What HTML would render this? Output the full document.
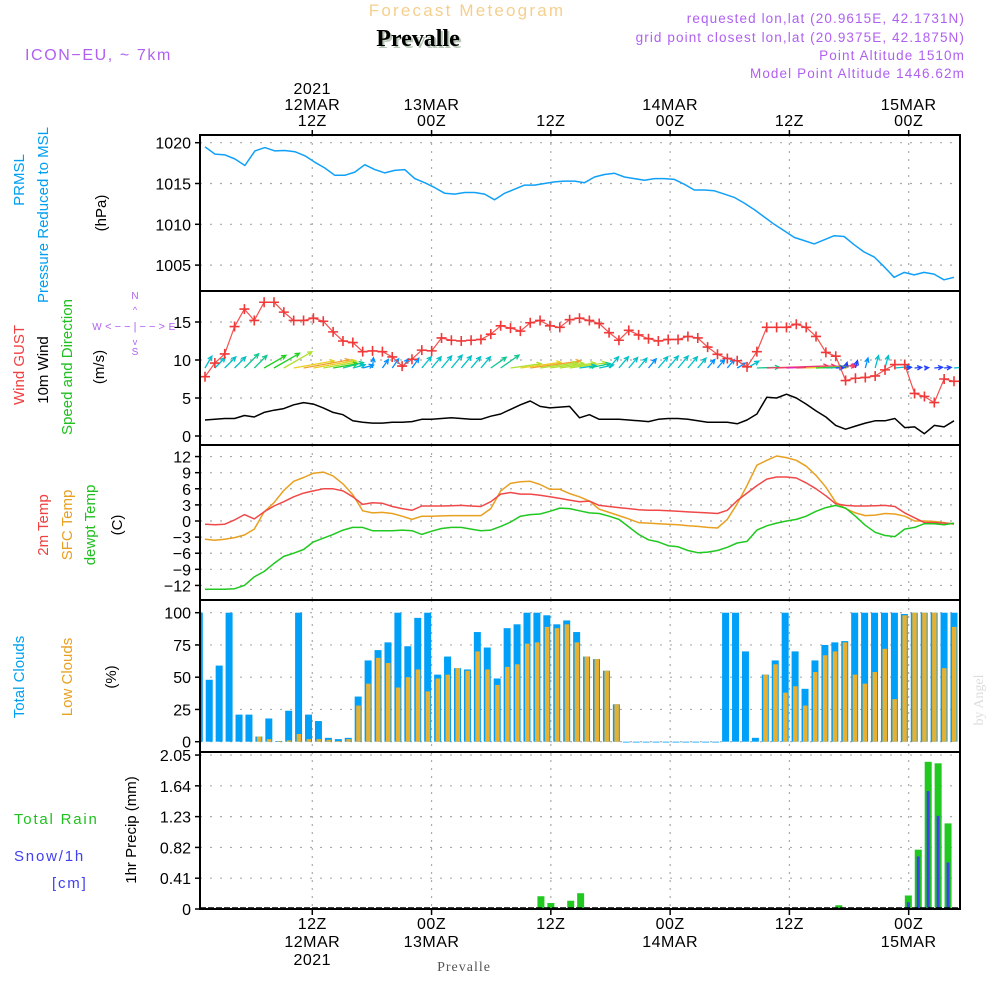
<!DOCTYPE html>
<html><head><meta charset="utf-8"><title>Forecast Meteogram Prevalle</title>
<style>
html,body{margin:0;padding:0;background:#fff;}
svg{display:block;font-family:"Liberation Sans",sans-serif;}
</style></head>
<body>
<svg id="chart" width="1000" height="1000" viewBox="0 0 1000 1000" xmlns="http://www.w3.org/2000/svg">
<defs><clipPath id="plotclip"><rect x="201" y="136" width="758" height="772"/></clipPath></defs>
<rect x="0" y="0" width="1000" height="1000" fill="#fff"/>
<g>
<text x="467" y="16" font-size="17" fill="#f5cf8e" letter-spacing="2.2" text-anchor="middle">Forecast Meteogram</text>
<text x="420" y="48" font-size="24" font-weight="bold" font-family="Liberation Serif,serif" fill="#b8c8b8" text-anchor="middle">Prevalle</text>
<text x="418" y="46" font-size="24" font-weight="bold" font-family="Liberation Serif,serif" fill="#000" text-anchor="middle">Prevalle</text>
<text x="25" y="60" font-size="16" fill="#b060f0" letter-spacing="1.6">ICON−EU, ~ 7km</text>
<g font-size="13.5" fill="#b060f0" text-anchor="end" letter-spacing="1.1">
<text x="965" y="23">requested lon,lat (20.9615E, 42.1731N)</text>
<text x="965" y="42">grid point closest lon,lat (20.9375E, 42.1875N)</text>
<text x="965" y="60">Point Altitude 1510m</text>
<text x="965" y="78">Model Point Altitude 1446.62m</text>
</g>
</g>
<g font-size="15">
<text transform="translate(24,180) rotate(-90)" fill="#00a0f0" text-anchor="middle">PRMSL</text>
<text transform="translate(48,215) rotate(-90)" fill="#00a0f0" text-anchor="middle">Pressure Reduced to MSL</text>
<text transform="translate(106,213) rotate(-90)" fill="#000" text-anchor="middle">(hPa)</text>
<text transform="translate(24,365) rotate(-90)" fill="#f04040" text-anchor="middle">Wind GUST</text>
<text transform="translate(48,370) rotate(-90)" fill="#000" text-anchor="middle">10m Wind</text>
<text transform="translate(72,367) rotate(-90)" fill="#20c020" text-anchor="middle">Speed and Direction</text>
<text transform="translate(104,367) rotate(-90)" fill="#000" text-anchor="middle">(m/s)</text>
<g fill="#b060f0" font-size="10" text-anchor="middle">
<text x="135" y="299">N</text><text x="97" y="330">W</text><text x="172" y="330">E</text><text x="135" y="355">S</text>
<text x="135" y="330" font-size="11">&lt; − − | − − &gt;</text>
<text x="135" y="313" font-size="9">^</text><text x="135" y="345" font-size="9">v</text>
</g>
<text transform="translate(48,525) rotate(-90)" fill="#f04040" text-anchor="middle">2m Temp</text>
<text transform="translate(72,525) rotate(-90)" fill="#e8a020" text-anchor="middle">SFC Temp</text>
<text transform="translate(95,525) rotate(-90)" fill="#20c020" text-anchor="middle">dewpt Temp</text>
<text transform="translate(122,525) rotate(-90)" fill="#000" text-anchor="middle">(C)</text>
<text transform="translate(24,677) rotate(-90)" fill="#00a0f0" text-anchor="middle">Total Clouds</text>
<text transform="translate(72,677) rotate(-90)" fill="#e8a020" text-anchor="middle">Low Clouds</text>
<text transform="translate(116,677) rotate(-90)" fill="#000" text-anchor="middle">(%)</text>
<text x="14" y="824" fill="#20c020" letter-spacing="1.8">Total   Rain</text>
<text x="14" y="861" fill="#4040f0" letter-spacing="1.8">Snow/1h</text>
<text x="52" y="888" fill="#4040f0" letter-spacing="1.8">[cm]</text>
<text transform="translate(136,830) rotate(-90)" fill="#000" text-anchor="middle">1hr Precip (mm)</text>
</g>
<text transform="translate(983,700) rotate(-90)" font-family="Liberation Serif,serif" font-size="14" fill="#ddd" text-anchor="middle">by Angel</text>
<text x="464" y="971" font-family="Liberation Serif,serif" font-size="14" fill="#555" text-anchor="middle" letter-spacing="1">Prevalle</text>
<g id="data" clip-path="url(#plotclip)"></g>
<g id="plot"></g>
</svg>
<script>
const pressure=[1019.5,1018.6,1018.5,1018.0,1017.2,1019.0,1019.4,1019.0,1019.05,1018.9,1018.4,1017.6,1016.9,1016.0,1016.0,1016.4,1017.3,1016.7,1016.3,1016.6,1016.7,1015.6,1015.1,1014.5,1013.8,1013.7,1013.9,1013.9,1013.7,1013.0,1013.8,1014.3,1014.8,1014.8,1015.0,1015.2,1015.3,1015.3,1015.1,1015.8,1016.1,1016.25,1015.8,1015.6,1015.4,1015.6,1015.6,1015.5,1014.9,1014.2,1014.2,1014.1,1013.7,1013.3,1012.6,1011.8,1010.9,1010.0,1009.2,1008.4,1008.0,1007.6,1008.1,1008.6,1008.5,1007.5,1006.6,1006.0,1004.8,1003.5,1004.1,1003.8,1004.1,1003.9,1003.2,1003.5];
const gust=[7.8,9.6,10.8,14.4,16.7,15.2,17.6,17.6,16.3,15.2,15.2,15.5,15.1,13.7,12.5,12.3,11.1,11.2,11.1,10.4,9.2,10.1,11.3,11.2,12.9,12.6,12.5,12.6,12.7,13.4,14.5,14.2,13.8,14.9,15.2,14.5,14.3,15.3,15.5,15.2,14.8,13.6,12.6,13.9,13.3,12.8,12.5,12.7,12.7,13.1,12.9,11.7,10.75,10.2,9.9,9.1,11.1,14.3,14.3,14.3,14.7,14.3,13.1,11.0,10.5,7.3,7.6,7.7,7.9,8.7,9.4,9.4,5.6,5.2,4.4,7.5,7.2];
const wind10m=[2.1,2.2,2.3,2.3,2.7,2.5,3.1,3.4,3.6,4.1,4.4,4.2,3.7,3.1,2.8,2.0,1.8,1.7,1.7,1.8,1.8,1.9,2.2,2.2,2.3,2.4,2.3,2.2,2.2,2.6,2.9,3.5,4.1,4.6,3.9,3.7,3.8,3.9,2.4,2.8,2.2,2.2,2.2,2.1,2.0,1.9,2.2,2.3,2.3,2.2,2.0,1.8,1.8,1.8,1.6,2.1,2.9,5.1,5.0,5.5,5.0,4.2,3.3,2.5,1.4,0.9,1.3,1.7,2.0,2.0,2.3,1.1,1.2,0.3,1.4,1.2,2.0];
const windDir=[210,225,225,225,225,225,240,240,240,260,260,260,260,260,255,255,255,185,215,215,215,215,220,220,220,220,220,220,220,235,235,262,262,262,262,262,262,262,262,258,258,220,220,220,220,220,220,220,220,220,220,220,220,220,240,240,268,268,268,268,268,268,268,268,268,195,195,195,195,195,265,265,265,265,265,265,265];
const temp2m=[-0.6,-0.7,-0.6,0.2,1.2,0.4,1.7,2.8,3.6,4.5,5.2,5.6,6.0,6.0,5.6,4.5,3.1,3.4,3.3,2.7,2.3,2.0,2.8,2.8,2.8,2.85,2.9,2.8,2.7,3.6,5.0,5.3,5.0,5.0,4.8,4.5,4.2,3.9,3.6,3.7,2.9,2.7,2.5,2.3,2.1,2.0,2.0,1.9,1.8,1.7,1.6,1.5,1.4,2.0,3.8,5.2,6.6,7.8,8.2,8.2,8.0,7.1,6.0,4.7,3.2,2.9,2.8,2.8,2.85,2.9,2.7,1.5,0.6,-0.3,-0.3,-0.4,-0.5];
const tempSfc=[-3.4,-3.6,-3.4,-3.1,-2.6,-1.5,1.7,3.4,5.7,7.4,8.1,8.9,9.1,8.4,6.9,4.9,1.9,1.5,1.6,1.4,0.9,0.3,0.9,0.9,0.95,1.0,1.0,1.0,1.0,2.3,5.6,7.0,7.3,7.4,6.8,5.9,5.9,5.1,4.5,3.7,2.2,1.6,1.0,0.4,-0.3,-0.4,-0.5,-0.6,-0.7,-0.9,-1.0,-1.2,-1.3,0.3,3.2,6.6,10.4,11.3,12.1,11.8,11.3,10.2,8.5,6.3,3.5,2.3,1.5,1.0,1.1,1.4,1.3,0.9,0.0,0.0,-0.1,-0.3,-0.6];
const dewpt=[-12.7,-12.7,-12.7,-12.6,-12.0,-10.4,-9.4,-7.9,-6.6,-6.0,-5.3,-3.9,-3.2,-2.5,-1.7,-1.2,-1.2,-1.8,-1.8,-1.8,-1.7,-1.8,-2.5,-1.9,-1.4,-1.2,-1.2,-1.5,-1.8,-1.7,-1.0,-0.2,0.9,1.2,1.3,1.8,2.4,2.3,1.9,1.5,1.4,0.9,0.3,-1.1,-2.5,-3.5,-3.9,-4.6,-4.8,-5.5,-5.9,-5.8,-5.5,-4.9,-4.1,-3.8,-1.7,-0.9,-0.4,0.0,0.3,0.9,1.8,2.5,2.9,2.4,0.9,-0.8,-2.1,-2.7,-2.9,-1.5,-1.2,-0.5,-0.5,-0.7,-0.4];
const totalClouds=[100,48,59,100,21,21,4,18,0.5,24,100,21,16,3,2,3,35,63,71,77,100,74,96,100,52,66,57,56,85,73,49,88,91,100,100,98,91,94,85,66,64,55,29,0,0,0,0,0,0,0,0,0,0,100,100,70,3,52,63,100,70,41,63,75,77,78,100,100,100,100,100,99,100,100,100,100,100];
const lowClouds=[0,0,0,0,0,0,4,2,0.5,1,6,2,2,1.5,0.5,2,28,45,65,61,42,50,56,39,49,52,57,55,70,56,44,58,60,76,77,89,88,91,77,66,64,55,29,0,0,0,0,0,0,0,0,0,0,0,0,0,0,52,60,38,43,28,54,67,70,77,52,45,54,72,33,98,100,100,100,57,89];
const rain=[0,0,0,0,0,0,0,0,0,0,0,0,0,0,0,0,0,0,0,0,0,0,0,0,0,0,0,0,0,0,0,0,0,0,0.17,0.08,0,0.11,0.21,0,0,0,0,0,0,0,0,0,0,0,0,0,0,0,0,0,0,0,0,0,0,0,0,0,0.05,0,0,0,0,0,0,0.18,0.79,1.96,1.94,1.14,0];
const snow=[0,0,0,0,0,0,0,0,0,0,0,0,0,0,0,0,0,0,0,0,0,0,0,0,0,0,0,0,0,0,0,0,0,0,0,0,0,0,0,0,0,0,0,0,0,0,0,0,0,0,0,0,0,0,0,0,0,0,0,0,0,0,0,0,0,0,0,0,0,0,0,0.09,0.70,1.57,1.24,0.62,0];
const pressureTicks=[1020,1015,1010,1005];
const windTicks=[15,10,5,0];
const tempTicks=[12,9,6,3,0,-3,-6,-9,-12];
const cloudTicks=[100,75,50,25,0];
const precipTicks=[2.05,1.64,1.23,0.82,0.41,0];
const timeHours=[12,24,36,48,60,72];
const topLabels=[["2021","12MAR","12Z"],["13MAR","00Z"],["12Z"],["14MAR","00Z"],["12Z"],["15MAR","00Z"]];
const bottomLabels=[["12Z","12MAR","2021"],["00Z","13MAR"],["12Z"],["00Z","14MAR"],["12Z"],["00Z","15MAR"]];

const NS="http://www.w3.org/2000/svg";
const plot=document.getElementById('plot');
const dataG=document.getElementById('data');
function mk(tag,attrs,parent){const e=document.createElementNS(NS,tag);for(const k in attrs)e.setAttribute(k,attrs[k]);(parent||plot).appendChild(e);return e;}
const X0=200,X1=960;
function xTime(h){return 193+h*9.94;}
function xLine(i,n){return 205+i*749/(n-1);}
function xBar(k){return 199.3+k*9.93;}
const panels={
 p:{top:135,bot:291,y:v=>142.7+(1020-v)*8.16},
 w:{top:291,bot:445,y:v=>436-v*7.6},
 t:{top:445,bot:600,y:v=>521-v*5.37},
 c:{top:600,bot:752,y:v=>741.7-v*1.29},
 r:{top:752,bot:909,y:v=>909-v*75.1}
};
function grid(pn,ticks,fmt,name){
 const P=panels[pn];
 ticks.forEach(t=>{
  const y=P.y(t);
  const g=mk('line',{x1:X0,x2:X1,y1:y,y2:y,stroke:'#aaa','stroke-width':1.2,'stroke-dasharray':'2,8'},dataG);
  
  
  mk('line',{x1:X0-5,x2:X0,y1:y,y2:y,stroke:'#000','stroke-width':1.5});
  const tx=mk('text',{x:X0-9,y:y+6,'font-size':16,'text-anchor':'end',fill:'#000'});
  tx.textContent=fmt(t);
  
  
 });
 timeHours.forEach(h=>{
  const x=xTime(h);
  const g=mk('line',{x1:x,x2:x,y1:P.top,y2:P.bot,stroke:'#aaa','stroke-width':1.2,'stroke-dasharray':'2,6'},dataG);
  
  
 });
}
grid('p',pressureTicks,t=>String(t),'pressure');
grid('w',windTicks,t=>String(t),'wind');
grid('t',tempTicks,t=>(t<0?'−'+(-t):String(t)),'temp');
grid('c',cloudTicks,t=>String(t),'cloud');
grid('r',precipTicks,t=>(t===0?'0':t.toFixed(2)),'precip');

function line(arr,pn,color,name,w){
 const P=panels[pn];
 const pts=arr.map((v,i)=>xLine(i,arr.length).toFixed(1)+','+P.y(v).toFixed(1)).join(' ');
 const l=mk('polyline',{points:pts,fill:'none',stroke:color,'stroke-width':w||1.5,'stroke-linejoin':'round'},dataG);
 
 
 return l;
}
line(pressure,'p','#10a0f8','pressure-line');
totalClouds.forEach((v,k)=>{
 const P=panels.c;const cx=xBar(k);const y=P.y(v);
 const b=mk('rect',{x:cx-3.5,y:y,width:7,height:Math.max(P.y(0)-y,0.8),fill:'#00a0f8'},dataG);
 
 
});
lowClouds.forEach((v,k)=>{
 if(v<=0)return;
 const P=panels.c;const cx=xBar(k);const y=P.y(v);
 const b=mk('rect',{x:cx-2,y:y,width:4.5,height:P.y(0)-y,fill:'#e8b030'},dataG);
 
 
});
rain.forEach((v,k)=>{
 if(v<=0)return;
 const P=panels.r;const cx=xBar(k)+4;const y=P.y(v);
 const b=mk('rect',{x:cx-3.5,y:y,width:7,height:P.y(0)-y,fill:'#20c820'},dataG);
 
 
});
snow.forEach((v,k)=>{
 if(v<=0)return;
 const P=panels.r;const cx=xBar(k)+4;const y=P.y(v);
 const b=mk('rect',{x:cx-1.5,y:y,width:3,height:P.y(0)-y,fill:'#4040f0'},dataG);
 
 
});
mk('line',{x1:X0,x2:X1,y1:908,y2:908,stroke:'#000','stroke-width':1.5,'stroke-dasharray':'6,2'},dataG);
line(tempSfc,'t','#e8a020','sfc-temp-line');
line(temp2m,'t','#f04848','temp-2m-line');
line(dewpt,'t','#20c820','dewpoint-line');
line(wind10m,'w','#000','wind-speed-line');
function windColor(s){
 if(s<1.5)return '#2040ff';if(s<2)return '#0090ff';if(s<2.5)return '#00c0c8';if(s<3)return '#10c890';
 if(s<3.5)return '#20d020';if(s<4)return '#b0e030';if(s<4.3)return '#e8d020';if(s<4.8)return '#f0a030';
 if(s<5.2)return '#f04060';return '#e020c0';
}
windDir.forEach((d,i)=>{
 const s=wind10m[i];if(s===undefined)return;
 const x=xLine(i,wind10m.length);const y=368;
 const b=(d+180)*Math.PI/180;const L=4+2.2*s*s;
 const dx=Math.sin(b)*L,dy=-Math.cos(b)*L;const ex=x+dx,ey=y+dy;
 const a=Math.atan2(dy,dx);const h=5;
 const c=windColor(s);
 const g=mk('path',{d:`M${x},${y}L${ex},${ey}M${ex-h*Math.cos(a-0.45)},${ey-h*Math.sin(a-0.45)}L${ex},${ey}L${ex-h*Math.cos(a+0.45)},${ey-h*Math.sin(a+0.45)}`,stroke:c,'stroke-width':1.3,fill:'none'},dataG);
 
 
});
line(gust,'w','#f45050','gust-line',1.2);
gust.forEach((v,i)=>{
 const x=xLine(i,gust.length),y=panels.w.y(v);
 const m=mk('path',{d:`M${x-5},${y}H${x+5}M${x},${y-5}V${y+5}`,stroke:'#f03838','stroke-width':1.6},dataG);
 
 
});
Object.keys(panels).forEach(k=>{
 const P=panels[k];
 const r=mk('rect',{x:X0,y:P.top,width:X1-X0,height:P.bot-P.top,fill:'none',stroke:'#000','stroke-width':2});
 
 
});
timeHours.forEach((h,i)=>{
 const x=xTime(h);
 mk('line',{x1:x,x2:x,y1:135,y2:130,stroke:'#000','stroke-width':1.5});
 mk('line',{x1:x,x2:x,y1:909,y2:915,stroke:'#000','stroke-width':1.5});
 const tl=topLabels[i];
 tl.forEach((s,j)=>{
  const t=mk('text',{x:x,y:126-(tl.length-1-j)*16,'font-size':16,'text-anchor':'middle',fill:'#000','letter-spacing':0.5});
  t.textContent=s;
  
  
 });
 bottomLabels[i].forEach((s,j)=>{
  const t=mk('text',{x:x,y:929+j*18,'font-size':16,'text-anchor':'middle',fill:'#000','letter-spacing':0.5});
  t.textContent=s;
  
  
 });
});
</script>
</body></html>
